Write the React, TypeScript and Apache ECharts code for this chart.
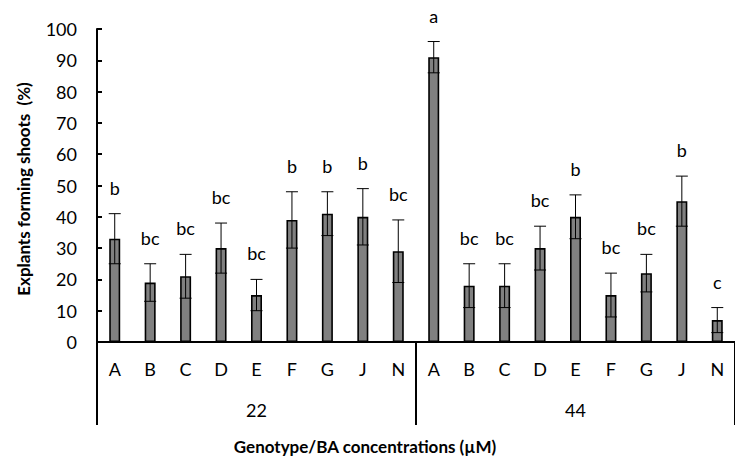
import React, { useEffect, useRef } from "react";
import * as echarts from "echarts";

// Genotypes tested at each BA concentration (µM)
const categories = ["A", "B", "C", "D", "E", "F", "G", "J", "N"];
const concentrations = ["22", "44"];

// Explants forming shoots (%), mean and standard error
const means22 = [33, 19, 21, 30, 15, 39, 41, 40, 29];
const errors22 = [8, 6, 7, 8, 5, 9, 7, 9, 10];
const means44 = [91, 18, 18, 30, 40, 15, 22, 45, 7];
const errors44 = [5, 7, 7, 7, 7, 7, 6, 8, 4];

// Mean separation letters
const letters22 = ["b", "bc", "bc", "bc", "bc", "b", "b", "b", "bc"];
const letters44 = ["a", "bc", "bc", "bc", "b", "bc", "bc", "b", "c"];

const yTicks = { min: 0, max: 100, interval: 10 };

const FONT = "Lato, 'Open Sans', sans-serif";

export default function App() {
  const ref = useRef<HTMLDivElement>(null);

  useEffect(() => {
    if (!ref.current) return;
    const chart = echarts.init(ref.current, undefined, { renderer: "svg" });

    const keys = concentrations.flatMap((c) => categories.map((g) => `${c}|${g}`));
    const means = [...means22, ...means44];
    const errors = [...errors22, ...errors44];
    const letters = [...letters22, ...letters44];

    const errData = means.map((m, i) => [i, m, errors[i]]);

    const option: any = {
      animation: false,
      backgroundColor: "#ffffff",
      textStyle: { fontFamily: FONT },
      grid: { left: 97, right: -10, top: 29, bottom: 121, containLabel: false },
      xAxis: [
        {
          type: "category",
          data: keys,
          position: "bottom",
          axisLine: { show: true, lineStyle: { color: "#000", width: 2 } },
          axisTick: { show: false },
          axisLabel: {
            formatter: (v: string) => v.split("|")[1],
            color: "#000",
            fontFamily: FONT,
            fontSize: 18,
            margin: 18,
            interval: 0,
          },
          splitLine: { show: false },
        },
        {
          type: "category",
          data: concentrations,
          position: "bottom",
          offset: 0,
          boundaryGap: true,
          axisLine: { show: false },
          axisTick: { show: true, length: 83, lineStyle: { color: "#000", width: 2 } },
          axisLabel: { color: "#000", fontFamily: FONT, fontSize: 18, margin: 59 },
          splitLine: { show: false },
        },
      ],
      yAxis: {
        type: "value",
        min: yTicks.min,
        max: yTicks.max,
        interval: yTicks.interval,
        axisLine: { show: true, lineStyle: { color: "#000", width: 2 } },
        axisTick: { show: true, inside: true, length: 5, lineStyle: { color: "#000", width: 2 } },
        axisLabel: { color: "#000", fontFamily: FONT, fontSize: 18, margin: 20 },
        splitLine: { show: false },
      },
      series: [
        {
          type: "bar",
          xAxisIndex: 0,
          data: means,
          barWidth: 11,
          itemStyle: { color: "#808080", borderColor: "#000", borderWidth: 1.6 },
          z: 2,
        },
        {
          type: "custom",
          xAxisIndex: 0,
          data: errData,
          z: 3,
          renderItem: (params: any, api: any) => {
            const x = api.value(0);
            const m = api.value(1);
            const e = api.value(2);
            const top = api.coord([x, m + e]);
            const bot = api.coord([x, m - e]);
            const half = 6;
            const line = { stroke: "#000", lineWidth: 1 };
            return {
              type: "group",
              children: [
                { type: "line", shape: { x1: top[0], y1: top[1], x2: bot[0], y2: bot[1] }, style: line },
                { type: "line", shape: { x1: top[0] - half, y1: top[1], x2: top[0] + half, y2: top[1] }, style: line },
                { type: "line", shape: { x1: bot[0] - half, y1: bot[1], x2: bot[0] + half, y2: bot[1] }, style: line },
                {
                  type: "text",
                  x: top[0],
                  y: top[1] - 17,
                  style: {
                    text: letters[params.dataIndex],
                    fill: "#000",
                    fontFamily: FONT,
                    fontSize: 18,
                    align: "center",
                    verticalAlign: "bottom",
                  },
                },
              ],
            };
          },
        },
      ],
      graphic: [
        {
          type: "text",
          x: 23,
          y: 189,
          rotation: Math.PI / 2,
          style: {
            text: "Explants forming shoots  (%)",
            fill: "#000",
            fontFamily: FONT,
            fontSize: 17,
            fontWeight: "bold",
            align: "center",
            verticalAlign: "middle",
          },
        },
        {
          type: "text",
          x: 365,
          y: 446,
          style: {
            text: "Genotype/BA concentrations (µM)",
            fill: "#000",
            fontFamily: FONT,
            fontSize: 17,
            fontWeight: "bold",
            align: "center",
            verticalAlign: "middle",
          },
        },
      ],
    };

    chart.setOption(option);
    return () => chart.dispose();
  }, []);

  return (
    <div
      ref={ref}
      style={{ position: "fixed", left: 0, top: 0, width: 735, height: 463 }}
    />
  );
}
